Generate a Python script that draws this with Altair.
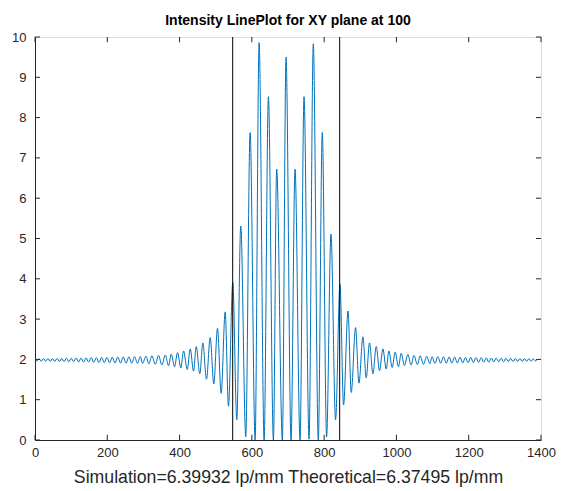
import altair as alt
import pandas as pd

# Extrema of the intensity profile (x position, intensity)
x_vals = [1, 5.4, 11.4, 17.4, 23.5, 29.6, 35.8, 42.0, 48.3, 54.6, 61.0, 67.4, 73.9, 80.4, 87.0, 93.6,
          100.3, 107.0, 113.8, 120.6, 127.5, 134.4, 141.4, 148.4, 155.5, 162.6, 169.8, 177.0, 184.3,
          191.6, 199.0, 206.4, 213.9, 221.4, 229.0, 236.6, 244.3, 252.0, 259.8, 267.6, 275.5, 283.5,
          291.4, 297.7, 306.9, 315.1, 323.4, 332.8, 341.9, 351.0, 360.4, 369.6, 377.0, 386.1, 394.4,
          403.5, 411.0, 421.2, 429.5, 438.6, 446.1, 456.0, 464.3, 474.5, 484.7, 494.7, 504.9, 515.1,
          526.2, 535.3, 547.2, 558.3, 569.3, 583.1, 595.2, 609.0, 620.1, 633.9, 645.8, 659.6, 668.7,
          684.4, 694.6, 708.4, 719.5, 733.3, 744.4, 758.2, 770.0, 783.8, 794.9, 806.8, 818.9, 831.6,
          843.8, 853.7, 866.0, 875.0, 886.9, 896.3, 907.3, 916.4, 925.5, 934.9, 944.1, 953.2, 962.6,
          971.7, 979.1, 988.2, 996.5, 1005.6, 1013.1, 1022.2, 1031.6, 1040.7, 1048.2, 1058.1, 1065.6,
          1074.7, 1084.1, 1092.3, 1098.6, 1106.5, 1114.5, 1122.4, 1130.2, 1138.0, 1145.7, 1153.4,
          1161.0, 1168.6, 1176.1, 1183.6, 1191.0, 1198.4, 1205.7, 1213.0, 1220.2, 1227.4, 1234.5,
          1241.6, 1248.6, 1255.6, 1262.5, 1269.4, 1276.2, 1283.0, 1289.7, 1296.4, 1303.0, 1309.6,
          1316.1, 1322.6, 1329.0, 1335.4, 1341.7, 1348.0, 1354.2, 1360.4, 1366.5, 1372.6, 1378.6,
          1384.6, 1389]
y_vals = [1.99, 1.96, 2.015, 1.955, 2.02, 1.955, 2.02, 1.95, 2.02, 1.95, 2.025, 1.945, 2.025, 1.945,
          2.03, 1.94, 2.03, 1.94, 2.035, 1.935, 2.035, 1.93, 2.04, 1.93, 2.045, 1.925, 2.045, 1.92,
          2.05, 1.92, 2.05, 1.915, 2.055, 1.91, 2.06, 1.91, 2.06, 1.905, 2.065, 1.905, 2.07, 1.90,
          2.07, 1.90, 2.08, 1.89, 2.09, 1.88, 2.10, 1.86, 2.11, 1.84, 2.13, 1.82, 2.17,
          1.79, 2.21, 1.75, 2.26, 1.71, 2.32, 1.64, 2.41, 1.51, 2.54, 1.39, 2.77, 1.16,
          3.18, 0.84, 3.91, 0.50, 5.31, 0.08, 7.63, 0.0, 9.86, 0.0, 8.52, 0.0, 6.72,
          0.0, 9.50, 0.0, 6.72, 0.0, 8.52, 0.02, 9.83, 0.0, 7.63, 0.08, 5.11, 0.50,
          3.87, 0.87, 3.20, 1.18, 2.79, 1.41, 2.56, 1.54, 2.41, 1.64, 2.32, 1.72, 2.26,
          1.76, 2.21, 1.80, 2.18, 1.82, 2.15, 1.85, 2.12, 1.86, 2.10, 1.87, 2.09,
          1.88, 2.08, 1.89, 2.07, 1.90, 2.07, 1.905, 2.065, 1.905, 2.06, 1.91,
          2.06, 1.91, 2.055, 1.915, 2.05, 1.92, 2.05, 1.92, 2.045, 1.925, 2.045,
          1.93, 2.04, 1.93, 2.035, 1.935, 2.035, 1.94, 2.03, 1.94, 2.03, 1.945,
          2.025, 1.945, 2.025, 1.95, 2.02, 1.95, 2.02, 1.955, 2.02, 1.955, 2.015,
          1.96, 1.99]

marker_x = [547, 843]
x_ticks = [0, 200, 400, 600, 800, 1000, 1200, 1400]
y_ticks = [0, 1, 2, 3, 4, 5, 6, 7, 8, 9, 10]
x_range = [0, 1400]
y_range = [0, 10]

AX = "#262626"
FONT = "Liberation Sans"

df = pd.DataFrame({"x": x_vals, "y": y_vals})

xs = alt.Scale(domain=x_range, nice=False, zero=False)
ys = alt.Scale(domain=y_range, nice=False, zero=False)

x_axis = alt.Axis(values=x_ticks, format="d", title="Simulation=6.39932 lp/mm Theoretical=6.37495 lp/mm",
                  grid=False, ticks=False, domainColor=AX, labelColor=AX, labelFont=FONT,
                  labelFontSize=13, labelPadding=6, titleFont=FONT, titleFontSize=17.7,
                  titleFontWeight="normal", titleColor=AX, titlePadding=9, labelFlush=False)
y_axis = alt.Axis(values=y_ticks, format="d", title=None, grid=False, ticks=False, domainColor=AX,
                  labelColor=AX, labelFont=FONT, labelFontSize=13, labelPadding=9, labelFlush=False)

line = alt.Chart(df).mark_line(color="#0072BD", strokeWidth=1, interpolate="monotone").encode(
    x=alt.X("x:Q", scale=xs, axis=x_axis),
    y=alt.Y("y:Q", scale=ys, axis=y_axis),
)

vdf = pd.DataFrame({"x": marker_x, "y0": [y_range[0]] * 2, "y1": [y_range[1]] * 2})
vlines = alt.Chart(vdf).mark_rule(color="black", strokeWidth=1).encode(
    x=alt.X("x:Q", scale=xs), y=alt.Y("y0:Q", scale=ys), y2="y1:Q")

# inward tick marks (MATLAB style)
tx = pd.DataFrame({"x": x_ticks})
ty = pd.DataFrame({"y": y_ticks})
tick_len_y = 0.13   # in y units (~5 px)
tick_len_x = 14     # in x units (~5 px)
xb = alt.Chart(tx).mark_rule(color=AX, strokeWidth=1).encode(
    x=alt.X("x:Q", scale=xs), y=alt.datum(y_range[0], scale=ys), y2=alt.datum(y_range[0] + tick_len_y))
xt = alt.Chart(tx).mark_rule(color=AX, strokeWidth=1).encode(
    x=alt.X("x:Q", scale=xs), y=alt.datum(y_range[1] - tick_len_y, scale=ys), y2=alt.datum(y_range[1]))
yl = alt.Chart(ty).mark_rule(color=AX, strokeWidth=1).encode(
    y=alt.Y("y:Q", scale=ys), x=alt.datum(x_range[0], scale=xs), x2=alt.datum(x_range[0] + tick_len_x))
yr = alt.Chart(ty).mark_rule(color=AX, strokeWidth=1).encode(
    y=alt.Y("y:Q", scale=ys), x=alt.datum(x_range[1] - tick_len_x, scale=xs), x2=alt.datum(x_range[1]))

chart = alt.layer(line, vlines, xb, xt, yl, yr).properties(
    width=506, height=403,
    title=alt.TitleParams("Intensity LinePlot for XY plane at 100", font=FONT, fontSize=14,
                          fontWeight="bold", color="black", anchor="middle", offset=3),
    padding={"left": 35, "top": 37, "right": 22, "bottom": 51},
    autosize=alt.AutoSizeParams(type="none"),
).configure_view(stroke=AX, strokeWidth=1).configure(background="white")

chart.save("out.html", embed_options={"renderer": "svg", "actions": False})
